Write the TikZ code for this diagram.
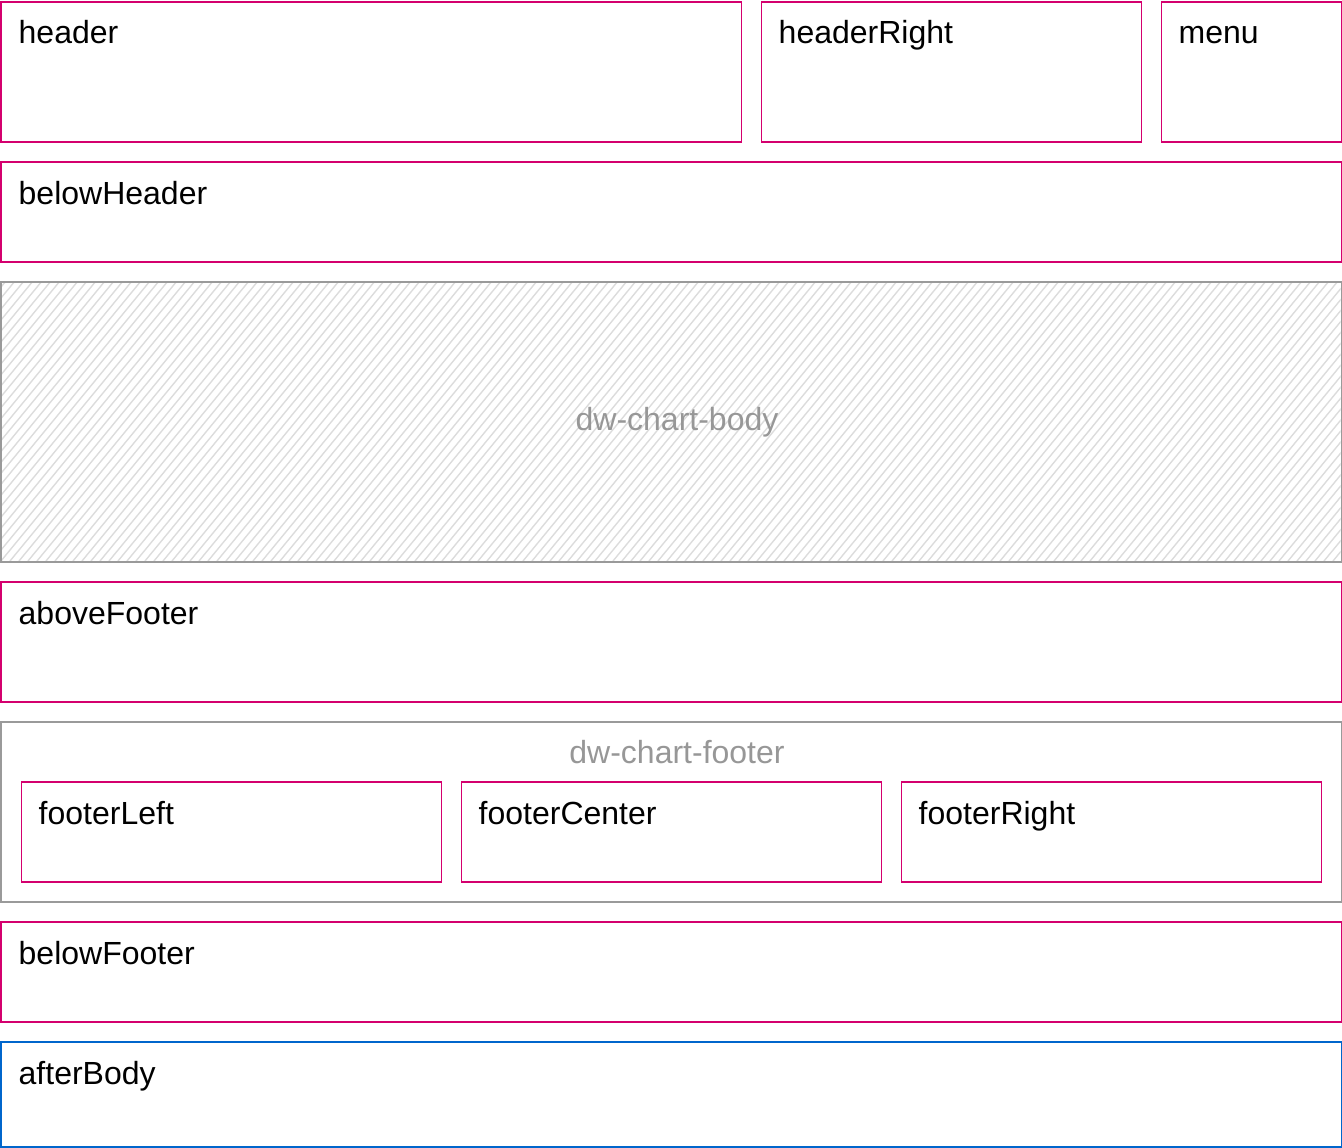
\documentclass[tikz,border=0pt]{standalone}
\usepackage{fontspec}
\setmainfont{Liberation Sans}
\definecolor{pinkline}{HTML}{D4006E}
\definecolor{grayline}{HTML}{9A9A9A}
\definecolor{hatch}{HTML}{DCDCDC}
\definecolor{blueline}{HTML}{0066CC}
\definecolor{graytext}{HTML}{979797}
\tikzset{
  pbox/.style={draw=pinkline, line width=1.6pt, rectangle, anchor=north west, inner sep=0pt},
  gbox/.style={draw=grayline, line width=1.6pt, rectangle, anchor=north west, inner sep=0pt},
  bbox/.style={draw=blueline, line width=1.6pt, rectangle, anchor=north west, inner sep=0pt},
  lbl/.style={anchor=base west, inner sep=0pt, font=\fontsize{32}{38}\selectfont, text=black},
  glbl/.style={anchor=base, inner sep=0pt, font=\fontsize{32}{38}\selectfont, text=graytext},
}
\begin{document}
\begin{tikzpicture}[x=1pt,y=1pt]
\useasboundingbox (0,0) rectangle (1342,-1148);
% header row
\node[pbox, minimum width=740pt, minimum height=140pt] (header) at (0.5,-1) {};
\node[lbl] (headerT) at ([xshift=18pt,yshift=-43pt]header.north west) {header};
\node[pbox, minimum width=380pt, minimum height=140pt] (headerRight) at (760.5,-1) {};
\node[lbl] (headerRightT) at ([xshift=18pt,yshift=-43pt]headerRight.north west) {headerRight};
\node[pbox, minimum width=180pt, minimum height=140pt] (menu) at (1160.5,-1) {};
\node[lbl] (menuT) at ([xshift=18pt,yshift=-43pt]menu.north west) {menu};
% below header
\node[pbox, minimum width=1340pt, minimum height=100pt] (belowHeader) at (0.5,-161) {};
\node[lbl] (belowHeaderT) at ([xshift=18pt,yshift=-43pt]belowHeader.north west) {belowHeader};
% body with hatching
\begin{scope}
  \clip (0.5,-281) rectangle (1340.5,-561);
  \foreach \i in {-260,-251,...,1340} {
    \draw[hatch, line width=1.4pt] (\i,-561) -- (\i+230,-281);
  }
\end{scope}
\node[gbox, minimum width=1340pt, minimum height=280pt] (body) at (0.5,-281) {};
\node[glbl] (bodyT) at (677,-430) {dw-chart-body};
% above footer
\node[pbox, minimum width=1340pt, minimum height=120pt] (aboveFooter) at (0.5,-581) {};
\node[lbl] (aboveFooterT) at ([xshift=18pt,yshift=-43pt]aboveFooter.north west) {aboveFooter};
% footer
\node[gbox, minimum width=1340pt, minimum height=180pt] (footer) at (0.5,-721) {};
\node[glbl] (footerT) at (677,-763) {dw-chart-footer};
\node[pbox, minimum width=420pt, minimum height=100pt] (footerLeft) at (20.5,-781) {};
\node[lbl] (footerLeftT) at ([xshift=18pt,yshift=-43pt]footerLeft.north west) {footerLeft};
\node[pbox, minimum width=420pt, minimum height=100pt] (footerCenter) at (460.5,-781) {};
\node[lbl] (footerCenterT) at ([xshift=18pt,yshift=-43pt]footerCenter.north west) {footerCenter};
\node[pbox, minimum width=420pt, minimum height=100pt] (footerRight) at (900.5,-781) {};
\node[lbl] (footerRightT) at ([xshift=18pt,yshift=-43pt]footerRight.north west) {footerRight};
% below footer
\node[pbox, minimum width=1340pt, minimum height=100pt] (belowFooter) at (0.5,-921) {};
\node[lbl] (belowFooterT) at ([xshift=18pt,yshift=-43pt]belowFooter.north west) {belowFooter};
% after body
\node[bbox, minimum width=1340pt, minimum height=105pt] (afterBody) at (0.5,-1041) {};
\node[lbl] (afterBodyT) at ([xshift=18pt,yshift=-43pt]afterBody.north west) {afterBody};
\end{tikzpicture}
\end{document}
